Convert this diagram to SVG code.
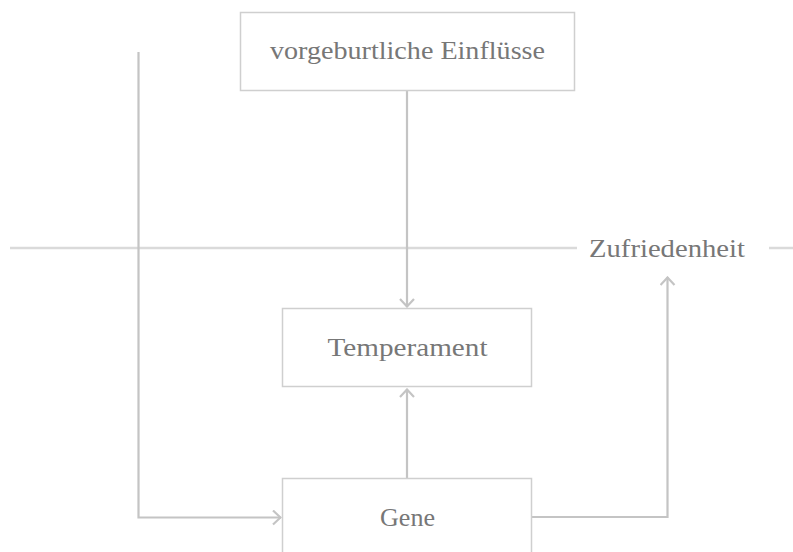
<svg xmlns="http://www.w3.org/2000/svg" width="793" height="552" viewBox="0 0 793 552">
<defs>
<marker id="arr" viewBox="0 0 14 16" refX="13" refY="8" markerWidth="14" markerHeight="16" markerUnits="userSpaceOnUse" orient="auto">
<path d="M5,1 L12.5,8 L5,15" fill="none" stroke="#c4c4c4" stroke-width="2.2"/>
</marker>
</defs>
<style>
.box{fill:#fff;stroke:#cfcfcf;stroke-width:1.5}
.lbl{font-family:"Liberation Serif","DejaVu Serif",serif;fill:#777;text-anchor:middle}
.ln{fill:none;stroke:#c4c4c4;stroke-width:2.2}
.axis{fill:none;stroke:#dadada;stroke-width:2.5}
</style>
<rect width="793" height="552" fill="#fff"/>
<g id="connectors">
<line class="axis" x1="10" y1="248" x2="577" y2="248"/>
<line class="axis" x1="769" y1="248" x2="793" y2="248"/>
<polyline class="ln" points="138.5,52 138.5,517.5 281,517.5" marker-end="url(#arr)"/>
<line class="ln" x1="407" y1="91" x2="407" y2="307" marker-end="url(#arr)"/>
<line class="ln" x1="407" y1="478" x2="407" y2="389" marker-end="url(#arr)"/>
<polyline class="ln" points="532,517 667.5,517 667.5,277" marker-end="url(#arr)"/>
</g>
<g id="vorgeburtliche">
<rect class="box" x="240.5" y="12.5" width="334" height="78"/>
<text class="lbl" x="407.5" y="59" font-size="26" textLength="275" lengthAdjust="spacingAndGlyphs">vorgeburtliche Einflüsse</text>
</g>
<g id="temperament">
<rect class="box" x="282.5" y="308.5" width="249" height="78"/>
<text class="lbl" x="407.5" y="356" font-size="26" textLength="160" lengthAdjust="spacingAndGlyphs">Temperament</text>
</g>
<g id="gene">
<rect class="box" x="282.5" y="478.5" width="249" height="90"/>
<text class="lbl" x="407.5" y="526" font-size="26" textLength="55" lengthAdjust="spacingAndGlyphs">Gene</text>
</g>
<g id="zufriedenheit">
<text class="lbl" x="667" y="257" font-size="26" textLength="156" lengthAdjust="spacingAndGlyphs">Zufriedenheit</text>
</g>
</svg>
